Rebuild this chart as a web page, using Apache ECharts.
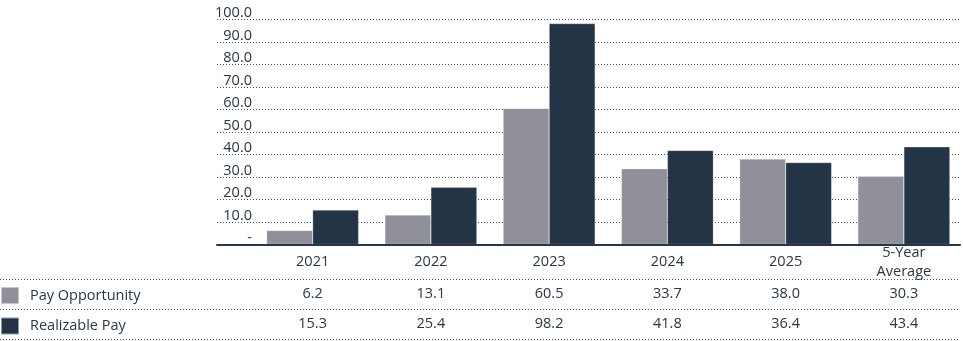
<!DOCTYPE html>
<html>
<head>
<meta charset="utf-8">
<script src="https://cdn.jsdelivr.net/npm/echarts@6/dist/echarts.min.js"></script>
<style>
  html, body { margin: 0; padding: 0; background: #ffffff; }
  #chart { width: 963px; height: 341px; }
</style>
</head>
<body>
<div id="chart"></div>
<script>
// Pay Opportunity vs Realizable Pay, by year plus the 5-year average
const categories = ['2021', '2022', '2023', '2024', '2025', '5-Year\nAverage'];
const payOpportunity = [6.2, 13.1, 60.5, 33.7, 38.0, 30.3];
const realizablePay = [15.3, 25.4, 98.2, 41.8, 36.4, 43.4];
const seriesNames = ['Pay Opportunity', 'Realizable Pay'];
const yTicks = { min: 0, max: 100, interval: 10 };

const FONT = '"Open Sans", "Noto Sans", sans-serif';
const FS = 14.5;
const TEXT = '#2a3646';
const GREY = '#8f909a';
const NAVY = '#233446';
const DOT = '#4d5562';

// shared vertical frame of the plot
const plotTop = 19.5;
const plotBottom = 341 - 244.5;
// horizontal frame of the category bands
const barLeft = 253.5;
const barWidthPx = 714;

const fmt = v => v.toFixed(1);

const bandGrid = { left: barLeft, width: barWidthPx, top: plotTop, bottom: plotBottom };

const hiddenY = idx => ({
  type: 'value', gridIndex: idx, min: yTicks.min, max: yTicks.max, show: false
});

const rowAxis = (idx, data, margin) => ({
  type: 'category', gridIndex: idx, data: data,
  axisLine: { show: false }, axisTick: { show: false },
  axisLabel: {
    margin: margin, verticalAlign: 'middle', lineHeight: 19,
    fontFamily: FONT, fontSize: FS, color: TEXT, interval: 0
  }
});

// one legend block per table row
const legendRow = (name, top) => ({
  orient: 'vertical', left: 0, top: top, padding: 0,
  itemWidth: 18, itemHeight: 17,
  icon: 'rect',
  data: [name],
  textStyle: { fontFamily: FONT, fontSize: FS, color: TEXT, padding: [0, 0, 0, 6] },
  selectedMode: false
});

const option = {
  animation: false,
  backgroundColor: '#ffffff',
  grid: [
    // 0: gridlines, tick labels and baseline
    { left: 217, right: 3, top: plotTop, bottom: plotBottom },
    // 1: bars and category labels
    bandGrid,
    // 2, 3: table rows of values
    Object.assign({}, bandGrid),
    Object.assign({}, bandGrid),
    // 4: table rules
    { left: 0, right: 3, top: 279.5, height: 60 }
  ],
  legend: [
    legendRow(seriesNames[0], 286),
    legendRow(seriesNames[1], 316.5)
  ],
  xAxis: [
    {
      type: 'category', gridIndex: 0, data: [''], z: 5,
      axisLine: { show: true, lineStyle: { color: '#27364a', width: 2 } },
      axisTick: { show: false }, axisLabel: { show: false }
    },
    rowAxis(1, categories, 17.5),
    rowAxis(2, payOpportunity.map(fmt), 49.5),
    rowAxis(3, realizablePay.map(fmt), 79),
    { type: 'value', gridIndex: 4, show: false }
  ],
  yAxis: [
    {
      type: 'value', gridIndex: 0,
      min: yTicks.min, max: yTicks.max, interval: yTicks.interval,
      axisLine: { show: false }, axisTick: { show: false },
      axisLabel: {
        inside: true, align: 'right', margin: 35,
        verticalAlign: 'bottom', lineHeight: 13,
        fontFamily: FONT, fontSize: FS, color: TEXT,
        formatter: v => (v === 0 ? '-' : fmt(v))
      },
      splitLine: { show: true, lineStyle: { color: DOT, width: 1, type: [1, 2] } }
    },
    hiddenY(1),
    hiddenY(2),
    hiddenY(3),
    {
      type: 'value', gridIndex: 4, min: 0, max: 2, interval: 1,
      axisLine: { show: false }, axisTick: { show: false }, axisLabel: { show: false },
      splitLine: { show: true, lineStyle: { color: DOT, width: 1, type: [1, 2] } }
    }
  ],
  series: [
    {
      name: seriesNames[0], type: 'bar', xAxisIndex: 1, yAxisIndex: 1,
      data: payOpportunity, barWidth: 46, barGap: '0%',
      itemStyle: { color: GREY, borderColor: 'rgba(255,255,255,0.5)', borderWidth: 0.5 }
    },
    {
      name: seriesNames[1], type: 'bar', xAxisIndex: 1, yAxisIndex: 1,
      data: realizablePay, barWidth: 46, barGap: '0%',
      itemStyle: { color: NAVY, borderColor: 'rgba(255,255,255,0.5)', borderWidth: 0.5 }
    }
  ]
};

const chart = echarts.init(document.getElementById('chart'), null, { renderer: 'canvas' });
chart.setOption(option);
</script>
</body>
</html>
